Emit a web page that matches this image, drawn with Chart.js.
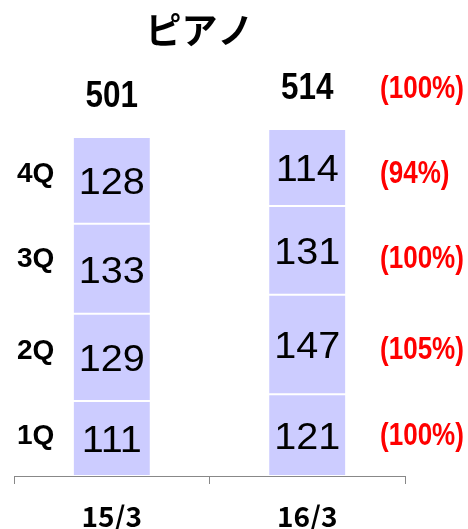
<!DOCTYPE html>
<html>
<head>
<meta charset="utf-8">
<script src="https://cdn.jsdelivr.net/npm/chart.js@4"></script>
<style>
  html, body { margin: 0; padding: 0; background: #fff; }
  #wrap { width: 468px; height: 529px; }
</style>
</head>
<body>
<div id="wrap"><canvas id="chart"></canvas></div>
<script>
// data
const categories = ['15/3', '16/3'];
const quarters = ['1Q', '2Q', '3Q', '4Q'];
const q1 = [111, 121];
const q2 = [129, 147];
const q3 = [133, 131];
const q4 = [128, 114];
const totals = [501, 514];   // as printed (rounded source figures)
const quarterYoY = ['(100%)', '(105%)', '(100%)', '(94%)'];
const totalYoY = '(100%)';
const title = 'ピアノ';

const series = [q1, q2, q3, q4];
const barColor = '#ccccff';

// text squeezed / stretched horizontally like the original slide fonts
function drawText(ctx, text, x, y, sx) {
    ctx.save();
    ctx.translate(x, y);
    ctx.scale(sx, 1);
    ctx.fillText(text, 0, 0);
    ctx.restore();
}

// draws title, in-bar values, totals, quarter names and yoy ratios
const labelsPlugin = {
    id: 'labels',
    afterDatasetsDraw(chart) {
        const ctx = chart.ctx;
        const area = chart.chartArea;
        ctx.save();

        // title
        ctx.fillStyle = '#000';
        ctx.font = 'bold 36px "Noto Sans CJK JP"';
        ctx.textAlign = 'center';
        ctx.textBaseline = 'middle';
        ctx.fillText(title, (area.left + area.right) / 2 - 10, 30);

        // values inside segments
        ctx.font = '36px "Liberation Sans"';
        chart.data.datasets.forEach((ds, di) => {
            chart.getDatasetMeta(di).data.forEach((bar, i) => {
                const mid = (bar.y + bar.base) / 2;
                drawText(ctx, String(ds.data[i]), bar.x, mid + 4, 1.1);
            });
        });

        // totals above bars
        ctx.font = 'bold 37px "Liberation Sans"';
        const totalY = [];
        totals.forEach((t, i) => {
            const bar = chart.getDatasetMeta(3).data[i];
            const y = bar.y - 40;
            totalY.push(y);
            drawText(ctx, String(t), bar.x, y, 0.85);
        });

        // quarter names left, yoy ratios right
        quarters.forEach((q, qi) => {
            let mids = [];
            chart.getDatasetMeta(qi).data.forEach(bar => mids.push((bar.y + bar.base) / 2));
            const y = mids.reduce((a, b) => a + b, 0) / mids.length;
            ctx.fillStyle = '#000';
            ctx.font = 'bold 28px "Liberation Sans"';
            ctx.textAlign = 'left';
            drawText(ctx, q, 17, y, 1.0);
            ctx.fillStyle = '#ff0000';
            ctx.font = 'bold 31px "Liberation Sans"';
            drawText(ctx, quarterYoY[qi], area.right - 25, y, 0.84);
        });
        ctx.fillStyle = '#ff0000';
        drawText(ctx, totalYoY, area.right - 25, totalY[1], 0.84);

        ctx.restore();
    }
};

new Chart(document.getElementById('chart'), {
    type: 'bar',
    data: {
        labels: categories,
        datasets: quarters.map((q, qi) => ({
            label: q,
            data: series[qi],
            backgroundColor: barColor,
            borderColor: '#ffffff',
            borderWidth: { top: 1, bottom: 1, left: 0, right: 0 },
            borderSkipped: false,
            barPercentage: 0.78,
            categoryPercentage: 0.5
        }))
    },
    options: {
        responsive: true,
        maintainAspectRatio: false,
        animation: false,
        layout: { padding: { left: 14, right: 63, top: 129, bottom: 0 } },
        plugins: {
            legend: { display: false },
            tooltip: { enabled: false }
        },
        scales: {
            x: {
                stacked: true,
                grid: { offset: true, drawOnChartArea: false, tickLength: 8, color: '#888888' },
                border: { color: '#888888', width: 1 },
                ticks: {
                    color: '#000',
                    padding: 16,
                    font: { family: '"Noto Sans CJK JP"', size: 28, weight: 'bold' }
                },
                afterFit(scale) { scale.height = 53; }
            },
            y: {
                stacked: true,
                display: false,
                min: 0,
                max: 513
            }
        }
    },
    plugins: [labelsPlugin]
});
</script>
</body>
</html>
